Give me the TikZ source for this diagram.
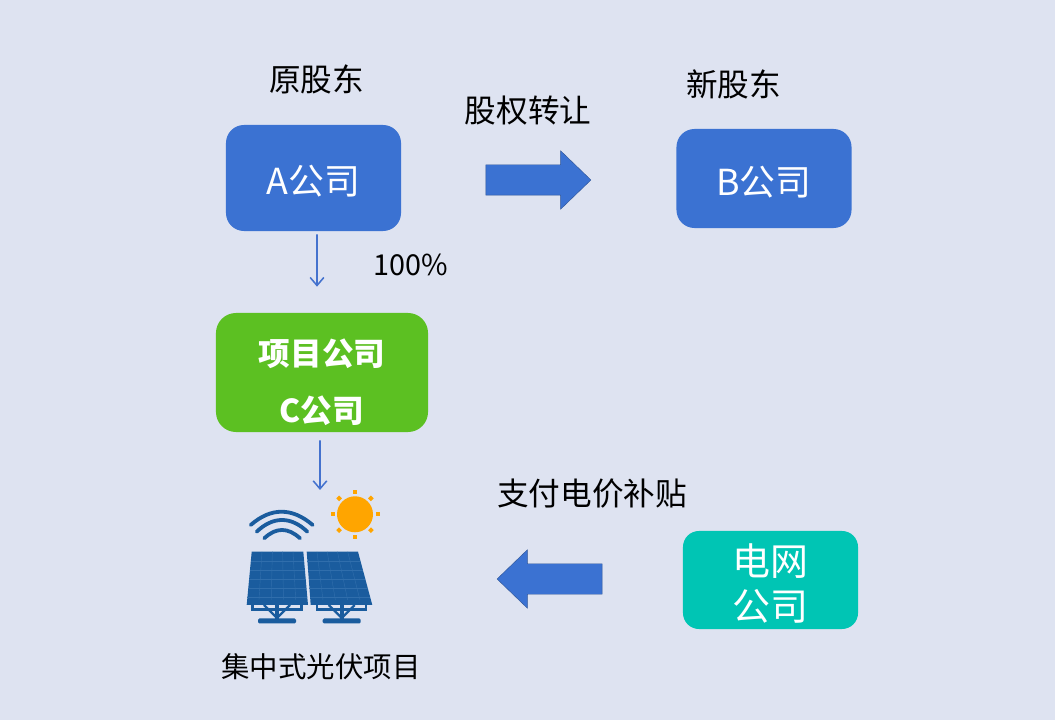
\documentclass[tikz,border=0pt]{standalone}
\usepackage{xcolor}
\usepackage{fontspec}
\setmainfont{Noto Sans CJK SC}
\usetikzlibrary{shapes.arrows, arrows.meta, calc}
\definecolor{mybg}{RGB}{222,227,241}
\definecolor{myblue}{RGB}{59,114,210}
\definecolor{mygreen}{RGB}{92,192,34}
\definecolor{myteal}{RGB}{0,197,180}
\definecolor{myline}{RGB}{68,114,206}
\definecolor{myedge}{RGB}{47,85,151}
\definecolor{mypanel}{RGB}{26,92,158}
\definecolor{mygrid}{RGB}{48,110,172}
\definecolor{mysun}{RGB}{255,165,0}
\tikzset{
  company/.style={rectangle, fill=myblue, text=white, align=center,
    minimum width=4.375cm, minimum height=2.65cm, rounded corners=0.45cm,
    text height=26pt, font=\fontsize{25.5}{30}\selectfont},
  project/.style={rectangle, fill=mygreen, text=white, align=center,
    minimum width=5.3cm, minimum height=2.975cm, rounded corners=0.5cm,
    font=\bfseries\fontsize{22.5}{40.5}\selectfont},
  grid/.style={rectangle, fill=myteal, text=white, align=center,
    minimum width=4.375cm, minimum height=2.45cm, rounded corners=0.4cm,
    font=\fontsize{27}{32}\selectfont},
  label/.style={text=black, inner sep=0pt, font=\fontsize{22.5}{26}\selectfont},
  bigarrow/.style={single arrow, fill=myblue, draw=myedge, line width=0.3pt,
    minimum height=2.625cm, inner xsep=0pt, inner ysep=0.375cm,
    single arrow head extend=0.35cm, single arrow tip angle=88},
  flow/.style={-{Straight Barb[length=0.2cm, width=0.34cm]}, color=myline, line width=1.1pt},
  wave/.style={draw=mypanel, line width=2.7pt, line cap=round}
}
\begin{document}
\begin{tikzpicture}[x=0.025cm, y=-0.025cm]
  % Background
  \fill[mybg] (0,0) rectangle (1055,720);

  % Companies
  \node[company] (acomp) at (313.5,178) {A公司};
  \node[company, minimum height=2.475cm] (bcomp) at (764,178.5) {B公司};
  \node[project] (ccomp) at (322,372.5) {\rule{0pt}{33pt}项目公司\\C公司};
  \node[grid] (gridco) at (770.5,580) {\rule{0pt}{28pt}电网\\公司};

  % Labels
  \node[label] (oldlabel) at (316.5,79) {原股东};
  \node[label] (newlabel) at (733.5,84) {新股东};
  \node[label] (translabel) at (528,111) {股权转让};
  \node[label, font=\fontsize{20.5}{26}\selectfont] (percent) at (411,265) {100\%};
  \node[label] (paylabel) at (592,494) {支付电价补贴};
  \node[label, font=\fontsize{20.2}{24}\selectfont] (solarlabel) at (321,667) {集中式光伏项目};

  % Block arrows
  \node[bigarrow] (transarrow) at (530.5,180) {};
  \node[bigarrow, shape border rotate=180] (payarrow) at (557.5,579) {};

  % Thin arrows
  \coordinate (solartop) at (320,490);
  \draw[flow, shorten <=0.08cm, shorten >=0.65cm] ([xshift=0.0875cm]acomp.south) -- ([xshift=-0.125cm]ccomp.north);
  \draw[flow, shorten <=0.2cm] ([xshift=-0.05cm]ccomp.south) -- (solartop);

  % Sun
  \fill[mysun] (355,514.3) circle (18);
  \foreach \ang in {0,45,...,315}
    \fill[mysun, rotate around={\ang:(355,514.3)}] (375.5,512.3) rectangle (379.5,516.3);

  % Signal waves
  \draw[wave] (250.7,525) .. controls (271,507.3) and (292,507.3) .. (312.7,525);
  \draw[wave] (256.7,531.7) .. controls (273,516.1) and (291,516.1) .. (307.3,531.7);
  \draw[wave] (264.3,538.3) .. controls (276,527.2) and (288,527.2) .. (300,538.3);

  % Panels
  \foreach \tl/\tr/\br/\bl in {251.7/303.3/308/246.7, 306.7/358/372.3/310.7} {
    \fill[mypanel] (\tl,551.7) -- (\tr,551.7) -- (\br,605) -- (\bl,605) -- cycle;
    \foreach \t in {0.2,0.4,0.6,0.8}
      \draw[mygrid, line width=0.3pt] ($(\tl,551.7)!\t!(\tr,551.7)$) -- ($(\bl,600)!\t!(\br,600)$);
    \foreach \t in {0.17,0.34,0.51,0.68,0.85}
      \draw[mygrid, line width=0.3pt] ($(\tl,551.7)!\t!(\bl,605)$) -- ($(\tr,551.7)!\t!(\br,605)$);
  }

  % Stands
  \foreach \mid in {277,341.7} {
    \draw[mypanel, line width=1.6pt] (\mid-24.5,605) -- (\mid-24.5,609.5) -- (\mid+24.5,609.5) -- (\mid+24.5,605);
    \draw[mypanel, line width=1.6pt] (\mid-13,605) -- (\mid,618) -- (\mid+13,605);
    \draw[mypanel, line width=2.6pt] (\mid,605) -- (\mid,619);
    \fill[mypanel, rounded corners=1pt] (\mid-19,618.5) rectangle (\mid+19,623.5);
  }
\end{tikzpicture}
\end{document}
